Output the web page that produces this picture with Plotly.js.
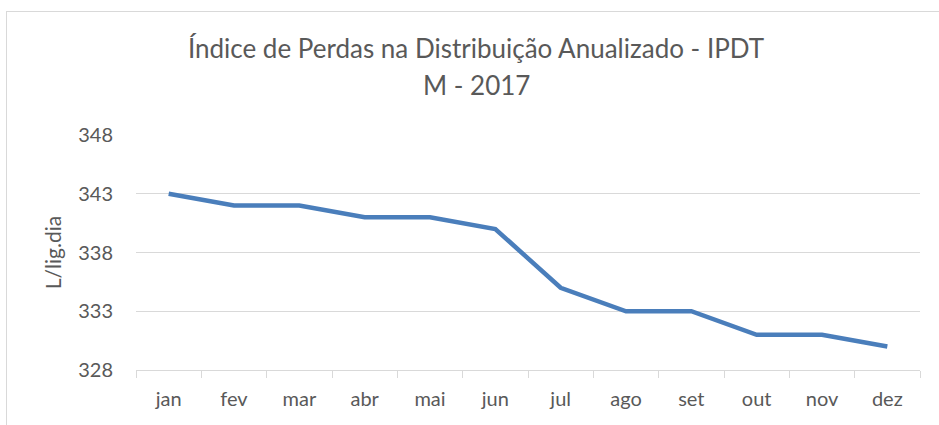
<!DOCTYPE html>
<html>
<head>
<meta charset="utf-8">
<script src="https://cdn.plot.ly/plotly-3.0.1.min.js"></script>
<style>
  html, body { margin: 0; padding: 0; background: #fff; overflow: hidden; }
  #wrap { position: relative; width: 939px; height: 425px; }
  #frame { position: absolute; left: 6px; top: 11px; width: 1000px; height: 500px; border: 1px solid #d9d9d9; box-sizing: border-box; pointer-events: none; }
  #chart { position: absolute; left: 0; top: 0; width: 939px; height: 425px; }
</style>
</head>
<body>
<div id="wrap">
  <div id="chart"></div>
  <div id="frame"></div>
</div>
<script>
const months = ["jan", "fev", "mar", "abr", "mai", "jun", "jul", "ago", "set", "out", "nov", "dez"];
const ipdt = [343, 342, 342, 341, 341, 340, 335, 333, 333, 331, 331, 330];
const yTicks = [328, 333, 338, 343, 348];
const titleLine1 = "Índice de Perdas na Distribuição Anualizado - IPDT";
const titleLine2 = "M - 2017";
const yTitle = "L/lig.dia";

const FONT = "Lato, 'Open Sans', sans-serif";
const TXT = "#595959";
const GRID = "#d9d9d9";

const trace = {
  type: "scatter",
  mode: "lines",
  x: months,
  y: ipdt,
  line: { color: "#4a7ebb", width: 4.5, shape: "linear" },
  hoverinfo: "x+y"
};

const layout = {
  width: 939,
  height: 425,
  paper_bgcolor: "rgba(0,0,0,0)",
  plot_bgcolor: "rgba(0,0,0,0)",
  margin: { l: 136, r: 19, t: 135, b: 55 },
  showlegend: false,
  font: { family: FONT, color: TXT, size: 20 },
  title: {
    text: titleLine1,
    font: { family: FONT, size: 26, color: TXT },
    xref: "container", yref: "container",
    x: 476 / 939, xanchor: "center",
    y: 1 - 49 / 425, yanchor: "middle"
  },
  annotations: [{
    text: titleLine2,
    xref: "paper", yref: "paper",
    x: (476 - 136) / (920 - 136), xanchor: "center",
    y: (370 - 85) / (370 - 135), yanchor: "middle",
    showarrow: false,
    font: { family: FONT, size: 26, color: TXT }
  }],
  xaxis: {
    type: "category",
    range: [-0.5, 11.5],
    tickson: "boundaries",
    ticks: "outside",
    ticklen: 7,
    tickcolor: GRID,
    tickwidth: 1,
    showline: true,
    linecolor: GRID,
    linewidth: 1,
    showgrid: false,
    zeroline: false,
    ticklabelstandoff: 11,
    tickfont: { family: FONT, size: 20, color: TXT },
    fixedrange: true
  },
  yaxis: {
    range: [328, 348],
    tickvals: yTicks,
    ticktext: yTicks.map(String),
    ticks: "",
    showline: false,
    showgrid: true,
    gridcolor: GRID,
    gridwidth: 1,
    zeroline: false,
    ticklabelstandoff: 22,
    tickfont: { family: FONT, size: 20, color: TXT },
    title: { text: yTitle, font: { family: FONT, size: 21, color: TXT }, standoff: 10 },
    fixedrange: true
  }
};

Plotly.newPlot("chart", [trace], layout, { displayModeBar: false, staticPlot: true });
</script>
</body>
</html>
